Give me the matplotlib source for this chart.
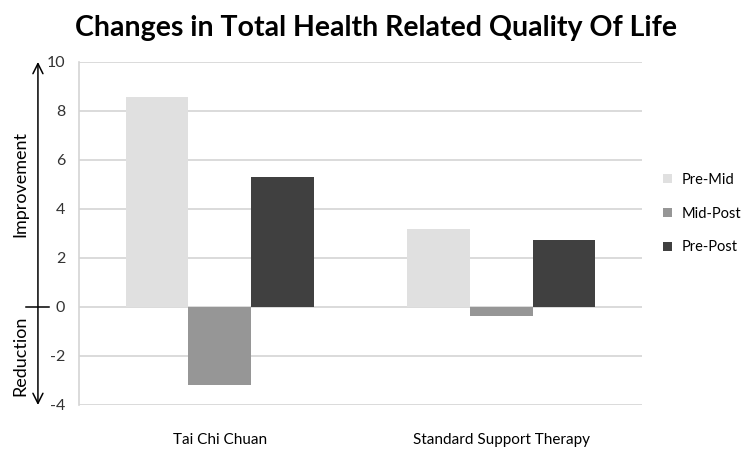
import numpy as np
import matplotlib.pyplot as plt

groups = ['Tai Chi Chuan', 'Standard Support Therapy']
series = ['Pre-Mid', 'Mid-Post', 'Pre-Post']
pre_mid = [8.57, 3.18]
mid_post = [-3.2, -0.38]
pre_post = [5.31, 2.75]
colors = ['#e0e0e0', '#969696', '#404040']

plt.rcParams['font.family'] = ['Lato', 'DejaVu Sans']
plt.rcParams['axes.unicode_minus'] = False

fig = plt.figure(figsize=(7.47, 4.49), dpi=100)
ax = fig.add_axes([0.1058, 0.098, 0.7536, 0.764])

x = np.arange(len(groups))
w = 1 / 4.5
for i, (name, vals) in enumerate(zip(series, [pre_mid, mid_post, pre_post])):
    ax.bar(x + (i - 1) * w, vals, width=w, color=colors[i], label=name, zorder=2)

ax.set_xlim(-0.5, 1.5)
ax.set_ylim(-4, 10)
ax.set_yticks(range(-4, 11, 2))
ax.yaxis.grid(True, color='#d4d4d4', linewidth=1.2, zorder=0)
ax.set_xticks(x)
ax.set_xticklabels(groups, fontsize=11)
ax.tick_params(axis='x', length=0, pad=20)
ax.tick_params(axis='y', length=0, pad=10, labelsize=11.5, colors='#333333')
for side in ['top', 'right', 'bottom']:
    ax.spines[side].set_visible(False)
ax.spines['left'].set_color('#d4d4d4')
ax.spines['left'].set_linewidth(1.2)

fig.text(0.503, 0.937, 'Changes in Total Health Related Quality Of Life',
         fontsize=20.5, fontweight='bold', ha='center', va='center')

# double arrow on the left with the zero tick
ax.annotate('', xy=(-0.073, 10), xytext=(-0.073, -4),
            xycoords=('axes fraction', 'data'),
            arrowprops=dict(arrowstyle='<->', color='black', lw=1.1,
                            mutation_scale=18, shrinkA=0, shrinkB=0))
ax.plot([-0.094, -0.053], [0, 0], color='black', lw=1.1,
        transform=ax.get_yaxis_transform(), clip_on=False)
ax.text(-0.105, 5, 'Improvement', rotation=90, ha='center', va='center',
        fontsize=13, transform=ax.get_yaxis_transform())
ax.text(-0.105, -2, 'Reduction', rotation=90, ha='center', va='center',
        fontsize=13, transform=ax.get_yaxis_transform())

leg = ax.legend(loc='center left', bbox_to_anchor=(1.027, 0.558), frameon=False,
                fontsize=10.5, handlelength=0.6, handleheight=0.6,
                handletextpad=0.7, labelspacing=1.35, borderaxespad=0)

fig.savefig('out.png', dpi=100)
